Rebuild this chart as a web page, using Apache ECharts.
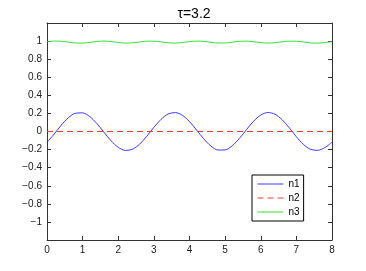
<!DOCTYPE html>
<html><head><meta charset="utf-8">
<script src="https://cdn.jsdelivr.net/npm/echarts@6/dist/echarts.min.js"></script>
<style>html,body{margin:0;padding:0;background:#fff}#c{width:366px;height:271px}</style>
</head><body><div id="c"></div>
<script>
const titleText = 'τ=3.2';
const xs = [0,0.2,0.4,0.6,0.8,1,1.2,1.4,1.6,1.8,2,2.2,2.4,2.6,2.8,3,3.2,3.4,3.6,3.8,4,4.2,4.4,4.6,4.8,5,5.2,5.4,5.6,5.8,6,6.2,6.4,6.6,6.8,7,7.2,7.4,7.6,7.8,8];
const n1 = [-0.120,-0.029,0.070,0.152,0.202,0.206,0.165,0.088,-0.009,-0.104,-0.175,-0.209,-0.196,-0.140,-0.053,0.046,0.134,0.194,0.209,0.180,0.110,0.016,-0.081,-0.161,-0.205,-0.204,-0.157,-0.077,0.021,0.114,0.182,0.210,0.191,0.130,0.041,-0.058,-0.144,-0.198,-0.208,-0.178,-0.118];
const n2x = [0, 8];
const n2 = [0, 0];
const n3 = [0.993,1.000,0.998,0.988,0.979,0.978,0.986,0.996,1.000,0.995,0.985,0.978,0.981,0.990,0.999,0.999,0.991,0.981,0.978,0.984,0.994,1.000,0.997,0.987,0.979,0.979,0.988,0.997,1.000,0.993,0.983,0.978,0.982,0.992,0.999,0.998,0.990,0.980,0.978,0.984,0.993];
const seriesNames = ['n1','n2','n3'];
const xTicks = [0,1,2,3,4,5,6,7,8];
const yTicks = [-1,-0.8,-0.6,-0.4,-0.2,0,0.2,0.4,0.6,0.8,1];

const pair = (x, y) => x.map((v, i) => [v, y[i]]);
const fmt = v => String(v).replace('-', '\u2212');
const font = 'Liberation Sans, Arial, Helvetica, sans-serif';
const axisLine = {show: true, onZero: false, lineStyle: {color: '#333', width: 1}};
const tick = {inside: true, length: 4, lineStyle: {color: '#333'}};
const chart = echarts.init(document.getElementById('c'));
chart.setOption({
  animation: false,
  title: {text: titleText, left: 189, textAlign: 'center', top: 2,
    textStyle: {fontFamily: font, fontSize: 14, fontWeight: 'normal', color: '#000'}},
  grid: {left: 47, right: 34, top: 23, bottom: 31},
  legend: {
    orient: 'vertical', left: 252, top: 175,
    borderColor: '#000', borderWidth: 1, padding: [4, 4, 4, 5],
    itemWidth: 26, itemHeight: 8, itemGap: 4,
    itemStyle: {opacity: 0},
    lineStyle: {width: 1},
    textStyle: {fontFamily: font, fontSize: 10, color: '#000'},
    data: seriesNames
  },
  xAxis: [
    {type: 'value', min: 0, max: 8, interval: 1, position: 'bottom',
     axisLine, splitLine: {show: false}, axisTick: tick,
     axisLabel: {fontFamily: font, fontSize: 10, color: '#222', margin: 5,
       formatter: v => xTicks.includes(v) ? fmt(v) : ''}},
    {type: 'value', min: 0, max: 8, interval: 1, position: 'top',
     axisLine, splitLine: {show: false}, axisTick: tick,
     axisLabel: {show: false}}
  ],
  yAxis: [
    {type: 'value', min: -1.2, max: 1.2, interval: 0.2, position: 'left',
     axisLine, splitLine: {show: false}, axisTick: tick,
     axisLabel: {fontFamily: font, fontSize: 10, color: '#222', margin: 5,
       formatter: v => { const r = Math.round(v * 10) / 10; return yTicks.includes(r) ? fmt(r) : ''; }}},
    {type: 'value', min: -1.2, max: 1.2, interval: 0.2, position: 'right',
     axisLine, splitLine: {show: false}, axisTick: tick,
     axisLabel: {show: false}}
  ],
  series: [
    {name: seriesNames[0], type: 'line', symbol: 'none', smooth: 0.3,
     data: pair(xs, n1), lineStyle: {color: '#3b3bff', width: 1}, itemStyle: {color: '#3b3bff'}},
    {name: seriesNames[1], type: 'line', symbol: 'none',
     data: pair(n2x, n2), lineStyle: {color: '#ff3b3b', width: 1, type: [6, 4]}, itemStyle: {color: '#ff3b3b'}},
    {name: seriesNames[2], type: 'line', symbol: 'none', smooth: 0.3,
     data: pair(xs, n3), lineStyle: {color: '#33e033', width: 1}, itemStyle: {color: '#33e033'}}
  ]
});
</script></body></html>
